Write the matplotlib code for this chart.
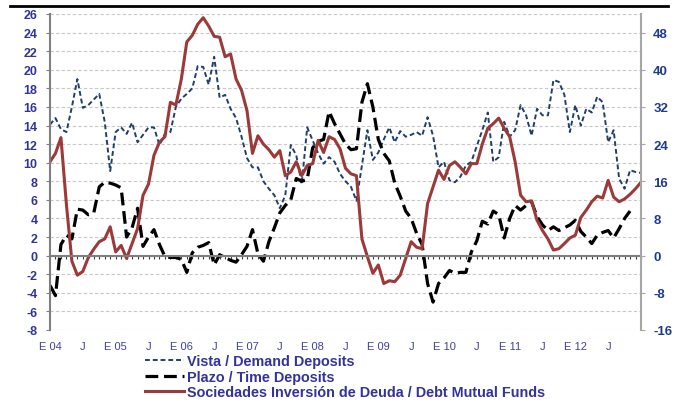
import numpy as np
import matplotlib
matplotlib.use('Agg')
import matplotlib.pyplot as plt
from matplotlib.lines import Line2D

plt.rcParams['font.family'] = ['Liberation Sans', 'DejaVu Sans']

# monthly data, Jan 2004 .. Jan 2013 (annual % change)
vista = [
    14.1, 14.8, 13.6, 13.3, 16.0, 19.0, 15.9, 16.2, 16.8, 17.4,
    14.4, 9.1, 13.3, 13.8, 13.1, 14.3, 12.2, 13.0, 13.8, 13.8,
    11.9, 13.1, 13.3, 16.0, 16.9, 17.4, 18.0, 20.4, 20.3, 18.4,
    21.4, 17.0, 17.3, 15.8, 14.8, 12.8, 10.5, 9.5, 9.5, 8.0,
    7.2, 6.5, 5.1, 6.5, 11.9, 10.8, 7.7, 13.8, 12.4, 11.0,
    9.9, 10.6, 10.1, 8.8, 8.0, 7.4, 5.9, 9.7, 13.5, 10.3,
    11.1, 12.5, 13.8, 12.2, 13.4, 12.8, 13.0, 13.3, 12.9, 14.9,
    12.9, 9.5, 10.1, 8.1, 7.9, 8.5, 9.7, 10.1, 11.8, 13.5,
    15.4, 10.1, 10.6, 14.4, 12.8, 13.5, 16.2, 15.1, 12.9, 15.8,
    15.1, 15.1, 18.9, 18.7, 17.3, 13.3, 16.2, 14.0, 15.8, 15.4,
    17.1, 16.5, 12.2, 13.5, 8.3, 7.2, 9.2, 9.0, 8.9,
]

plazo = [
    -3.2, -4.3, 1.2, 2.2, 1.8, 5.0, 4.9, 4.4, 4.6, 7.4,
    7.9, 7.8, 7.6, 7.3, 2.0, 3.0, 5.1, 1.0, 2.0, 2.8,
    1.2, -0.1, -0.2, -0.2, -0.4, -1.8, 0.3, 0.9, 1.1, 1.4,
    -1.0, 0.1, -0.2, -0.5, -0.7, 0.1, 1.0, 2.8, 0.2, -0.6,
    1.5, 3.0, 4.6, 5.4, 6.0, 8.3, 8.0, 8.2, 11.6, 12.3,
    12.5, 15.5, 14.2, 13.1, 12.0, 11.4, 11.5, 16.5, 18.5, 16.0,
    12.5, 11.0, 10.2, 7.8, 6.4, 4.8, 4.0, 2.4, 1.2, -3.0,
    -5.0, -3.0, -2.4, -1.6, -1.9, -1.8, -1.8, 0.4, 1.6, 3.7,
    3.4, 4.8, 4.4, 1.9, 4.0, 5.4, 4.9, 5.4, 5.8, 4.2,
    3.3, 2.7, 3.1, 2.7, 3.0, 3.3, 3.8, 2.6, 2.0, 1.3,
    2.2, 2.5, 2.7, 1.9, 2.9, 4.0, 4.8, np.nan, np.nan,
]

sociedades = [
    10.1, 11.0, 12.7, 5.5, -0.6, -2.1, -1.7, -0.2, 0.7, 1.5,
    1.8, 3.1, 0.4, 1.1, -0.3, 1.3, 2.9, 6.5, 7.7, 10.8,
    12.2, 12.8, 16.5, 16.2, 19.0, 23.0, 23.7, 24.9, 25.6, 24.7,
    23.6, 23.5, 21.4, 21.7, 19.0, 17.8, 15.6, 11.0, 12.9, 12.0,
    11.4, 10.6, 11.3, 8.6, 9.0, 10.1, 8.6, 9.7, 9.9, 12.4,
    11.1, 12.8, 12.5, 11.5, 9.4, 8.8, 8.6, 1.8, -0.1, -1.9,
    -1.0, -3.0, -2.7, -2.8, -2.1, -0.3, 1.5, 0.9, 0.75, 5.6,
    7.4, 9.2, 8.2, 9.7, 10.1, 9.5, 8.8, 9.9, 9.9, 12.0,
    13.7, 14.2, 14.8, 13.7, 12.8, 10.1, 6.5, 5.8, 5.9, 3.8,
    2.7, 1.8, 0.6, 0.75, 1.3, 1.9, 2.2, 4.1, 4.9, 5.8,
    6.4, 6.2, 8.1, 6.3, 5.8, 6.1, 6.6, 7.2, 7.9,
]

x_labels = ['E 04', 'J', 'E 05', 'J', 'E 06', 'J', 'E 07', 'J', 'E 08', 'J',
            'E 09', 'J', 'E 10', 'J', 'E 11', 'J', 'E 12', 'J']
left_ticks = list(range(-8, 27, 2))
right_ticks = list(range(-16, 49, 8))

legend_names = ['Vista / Demand Deposits', 'Plazo / Time Deposits',
                'Sociedades Inversión de Deuda / Debt Mutual Funds']

months = np.arange(len(vista))
label_pos = np.arange(0, 6 * len(x_labels), 6)

W, H = 678, 402
fig = plt.figure(figsize=(W / 100, H / 100), dpi=100)
ax = fig.add_axes([50 / W, 1 - 331 / H, 591 / W, 316 / H])

l1, = ax.plot(months, vista, color='#1F3F6E', lw=1.4, dashes=(2.5, 1.5))
l2, = ax.plot(months, plazo, color='black', lw=2.3, dashes=(4, 1.8),
              dash_capstyle='butt')
l3, = ax.plot(months, sociedades, color='#9B3A38', lw=2.2)

ax.set_xlim(0, len(vista) - 1)
ax.set_ylim(-8, 26)
ax.set_yticks(left_ticks, labels=[str(v) for v in left_ticks], fontweight='bold')
ax.yaxis.grid(True, color='#C8C8C8', lw=0.8, ls=(0, (3, 2)))
ax.set_axisbelow(True)

ax.spines['top'].set_visible(False)
ax.spines['right'].set_visible(False)
ax.spines['bottom'].set_position(('data', 0))
ax.spines['bottom'].set_color('#7F7F7F')
ax.spines['bottom'].set_linewidth(1.5)
ax.spines['left'].set_color('#7F7F7F')
ax.spines['left'].set_linewidth(1.5)

ax.set_xticks(months)
ax.tick_params(axis='x', length=2.5, width=0.8, color='#404040', labelbottom=False)
ax.tick_params(axis='y', length=3, color='#7F7F7F', pad=6, labelsize=9,
               labelcolor='#333399')

sec = ax.secondary_xaxis('bottom')
sec.set_xticks(label_pos, labels=x_labels)
sec.tick_params(length=0, pad=8, labelsize=8, labelcolor='#4040A0')
sec.spines['bottom'].set_visible(False)

ax2 = ax.twinx()
ax2.set_ylim(-16, 52)
ax2.set_yticks(right_ticks, labels=[str(v) for v in right_ticks], fontweight='bold')
for s in ['top', 'bottom', 'left']:
    ax2.spines[s].set_visible(False)
ax2.spines['right'].set_color('#A6A6A6')
ax2.spines['right'].set_linewidth(1.5)
ax2.tick_params(axis='y', length=3, color='#A6A6A6', pad=5.8, labelsize=9.5,
                labelcolor='#1F3C8C')

fig.legend([l1, l2, l3], legend_names, loc='upper left',
           bbox_to_anchor=(145 / W, 1 - 355 / H), frameon=False,
           prop=dict(weight='bold', size=10.4), labelcolor='#333399',
           handlelength=2.7, handletextpad=0.2, labelspacing=0.12,
           borderpad=0, borderaxespad=0)

fig.add_artist(Line2D([10 / W, 668 / W], [1 - 7 / H] * 2, color='black', lw=2))

fig.savefig('out.png', dpi=100)
